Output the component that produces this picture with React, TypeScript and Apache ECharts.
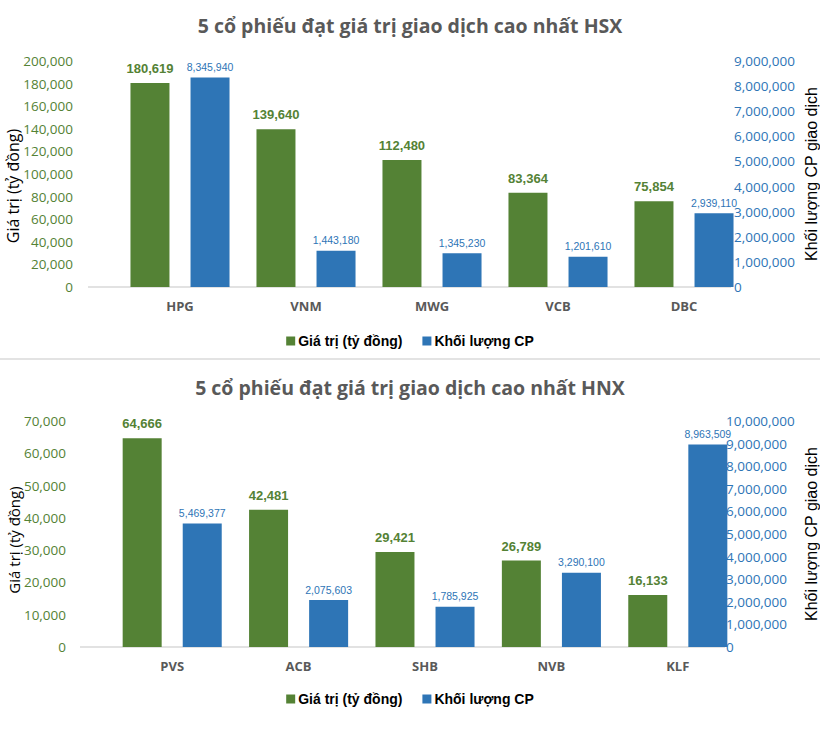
import React, { useEffect, useRef } from "react";
import * as echarts from "echarts";

const hsxCategories = ["HPG", "VNM", "MWG", "VCB", "DBC"];
const hsxValue = [180619, 139640, 112480, 83364, 75854];
const hsxVolume = [8345940, 1443180, 1345230, 1201610, 2939110];

const hnxCategories = ["PVS", "ACB", "SHB", "NVB", "KLF"];
const hnxValue = [64666, 42481, 29421, 26789, 16133];
const hnxVolume = [5469377, 2075603, 1785925, 3290100, 8963509];

const titles = [
  "5 cổ phiếu đạt giá trị giao dịch cao nhất HSX",
  "5 cổ phiếu đạt giá trị giao dịch cao nhất HNX",
];
const valueName = "Giá trị (tỷ đồng)";
const volumeName = "Khối lượng CP";
const leftAxisName = "Giá trị (tỷ đồng)";
const rightAxisName = "Khối lượng CP giao dịch";

const GREEN = "#548235";
const BLUE = "#2E75B6";
const TICK_FONT = "Open Sans";
const LABEL_FONT = "Liberation Sans";
const fmt = (v: number) => Math.round(v).toLocaleString("en-US");

export default function App() {
  const ref = useRef<HTMLDivElement>(null);
  useEffect(() => {
    if (!ref.current) return;
    const chart = echarts.init(ref.current, null, { renderer: "svg" });

    const leftAxis = (grid: number, max: number, interval: number, margin: number, nameGap: number, nameSize: number, namePad: number) => ({
      type: "value",
      gridIndex: grid,
      position: "left",
      min: 0,
      max,
      interval,
      axisLine: { show: false },
      axisTick: { show: false },
      splitLine: { show: false },
      axisLabel: {
        color: GREEN,
        fontFamily: TICK_FONT,
        fontSize: 13.5,
        margin,
        formatter: (v: number) => fmt(v),
      },
      name: leftAxisName,
      nameLocation: "middle",
      nameRotate: 90,
      nameGap,
      nameMoveOverlap: false,
      nameTextStyle: { color: "#000", fontFamily: "Open Sans", fontSize: nameSize, padding: [0, namePad, 0, 0] },
    });
    const rightAxis = (grid: number, max: number, interval: number, offset: number, nameGap: number) => ({
      type: "value",
      gridIndex: grid,
      position: "right",
      offset,
      min: 0,
      max,
      interval,
      axisLine: { show: false },
      axisTick: { show: false },
      splitLine: { show: false },
      axisLabel: {
        color: BLUE,
        fontFamily: TICK_FONT,
        fontSize: 13.5,
        margin: 1,
        formatter: (v: number) => fmt(v),
      },
      name: rightAxisName,
      nameLocation: "middle",
      nameRotate: 90,
      nameGap,
      nameMoveOverlap: false,
      nameTextStyle: { color: "#000", fontFamily: "Liberation Sans", fontSize: 16 },
    });
    const xAxis = (grid: number, data: string[]) => ({
      type: "category",
      gridIndex: grid,
      data,
      axisLine: { show: false },
      axisTick: { show: false },
      axisLabel: {
        color: "#595959",
        fontFamily: TICK_FONT,
        fontWeight: "bold",
        fontSize: 13,
        margin: 12,
      },
    });
    const valueSeries = (idx: number, data: number[]) => ({
      type: "bar",
      name: valueName,
      xAxisIndex: idx,
      yAxisIndex: idx * 2,
      data,
      barWidth: 39,
      barGap: "54%",
      itemStyle: { color: GREEN },
      label: {
        show: true,
        position: "top",
        distance: 8,
        color: GREEN,
        fontFamily: LABEL_FONT,
        fontWeight: "bold",
        fontSize: 13,
        formatter: (p: any) => fmt(p.value),
      },
    });
    const volumeSeries = (idx: number, data: number[]) => ({
      type: "bar",
      name: volumeName,
      xAxisIndex: idx,
      yAxisIndex: idx * 2 + 1,
      data,
      barWidth: 39,
      barGap: "54%",
      itemStyle: { color: BLUE },
      label: {
        show: true,
        position: "top",
        distance: 5,
        color: BLUE,
        fontFamily: LABEL_FONT,
        fontSize: 10.5,
        formatter: (p: any) => fmt(p.value),
      },
    });
    const legend = (top: number) => ({
      top,
      left: "center",
      icon: "rect",
      itemWidth: 9,
      itemHeight: 9,
      itemGap: 20,
      data: [valueName, volumeName],
      textStyle: { color: "#000", fontFamily: "Liberation Sans", fontWeight: "bold", fontSize: 14, padding: [0, 0, 0, -2] },
    });
    const titleStyle = { color: "#595959", fontFamily: "Open Sans", fontWeight: "bold", fontSize: 19.5 };

    chart.setOption({
      animation: false,
      backgroundColor: "#fff",
      title: [
        { text: titles[0], left: "center", top: 10, textStyle: titleStyle },
        { text: titles[1], left: "center", top: 372, textStyle: titleStyle },
      ],
      legend: [legend(329), legend(687)],
      grid: [
        { left: 117, right: 73, top: 61, height: 226, outerBoundsMode: "none" },
        { left: 109, right: 79, top: 421, height: 226, outerBoundsMode: "none" },
      ],
      xAxis: [xAxis(0, hsxCategories), xAxis(1, hnxCategories)],
      yAxis: [
        leftAxis(0, 200000, 20000, 44, 96, 16, 24),
        rightAxis(0, 9000000, 1000000, -14, 70),
        leftAxis(1, 70000, 10000, 43, 88, 15, 12),
        rightAxis(1, 10000000, 1000000, -16, 78),
      ],
      series: [
        valueSeries(0, hsxValue),
        volumeSeries(0, hsxVolume),
        valueSeries(1, hnxValue),
        volumeSeries(1, hnxVolume),
      ],
      graphic: [
        { type: "line", shape: { x1: 88, y1: 287, x2: 731, y2: 287 }, style: { stroke: "#d9d9d9", lineWidth: 1.5 } },
        { type: "line", shape: { x1: 80, y1: 647, x2: 725, y2: 647 }, style: { stroke: "#d9d9d9", lineWidth: 1.5 } },
        { type: "line", shape: { x1: 0, y1: 359, x2: 820, y2: 359 }, style: { stroke: "#e3e3e3", lineWidth: 2 } },
      ],
    });
    return () => chart.dispose();
  }, []);
  return (
    <div
      ref={ref}
      style={{ position: "absolute", left: 0, top: 0, width: 820, height: 744 }}
    />
  );
}
